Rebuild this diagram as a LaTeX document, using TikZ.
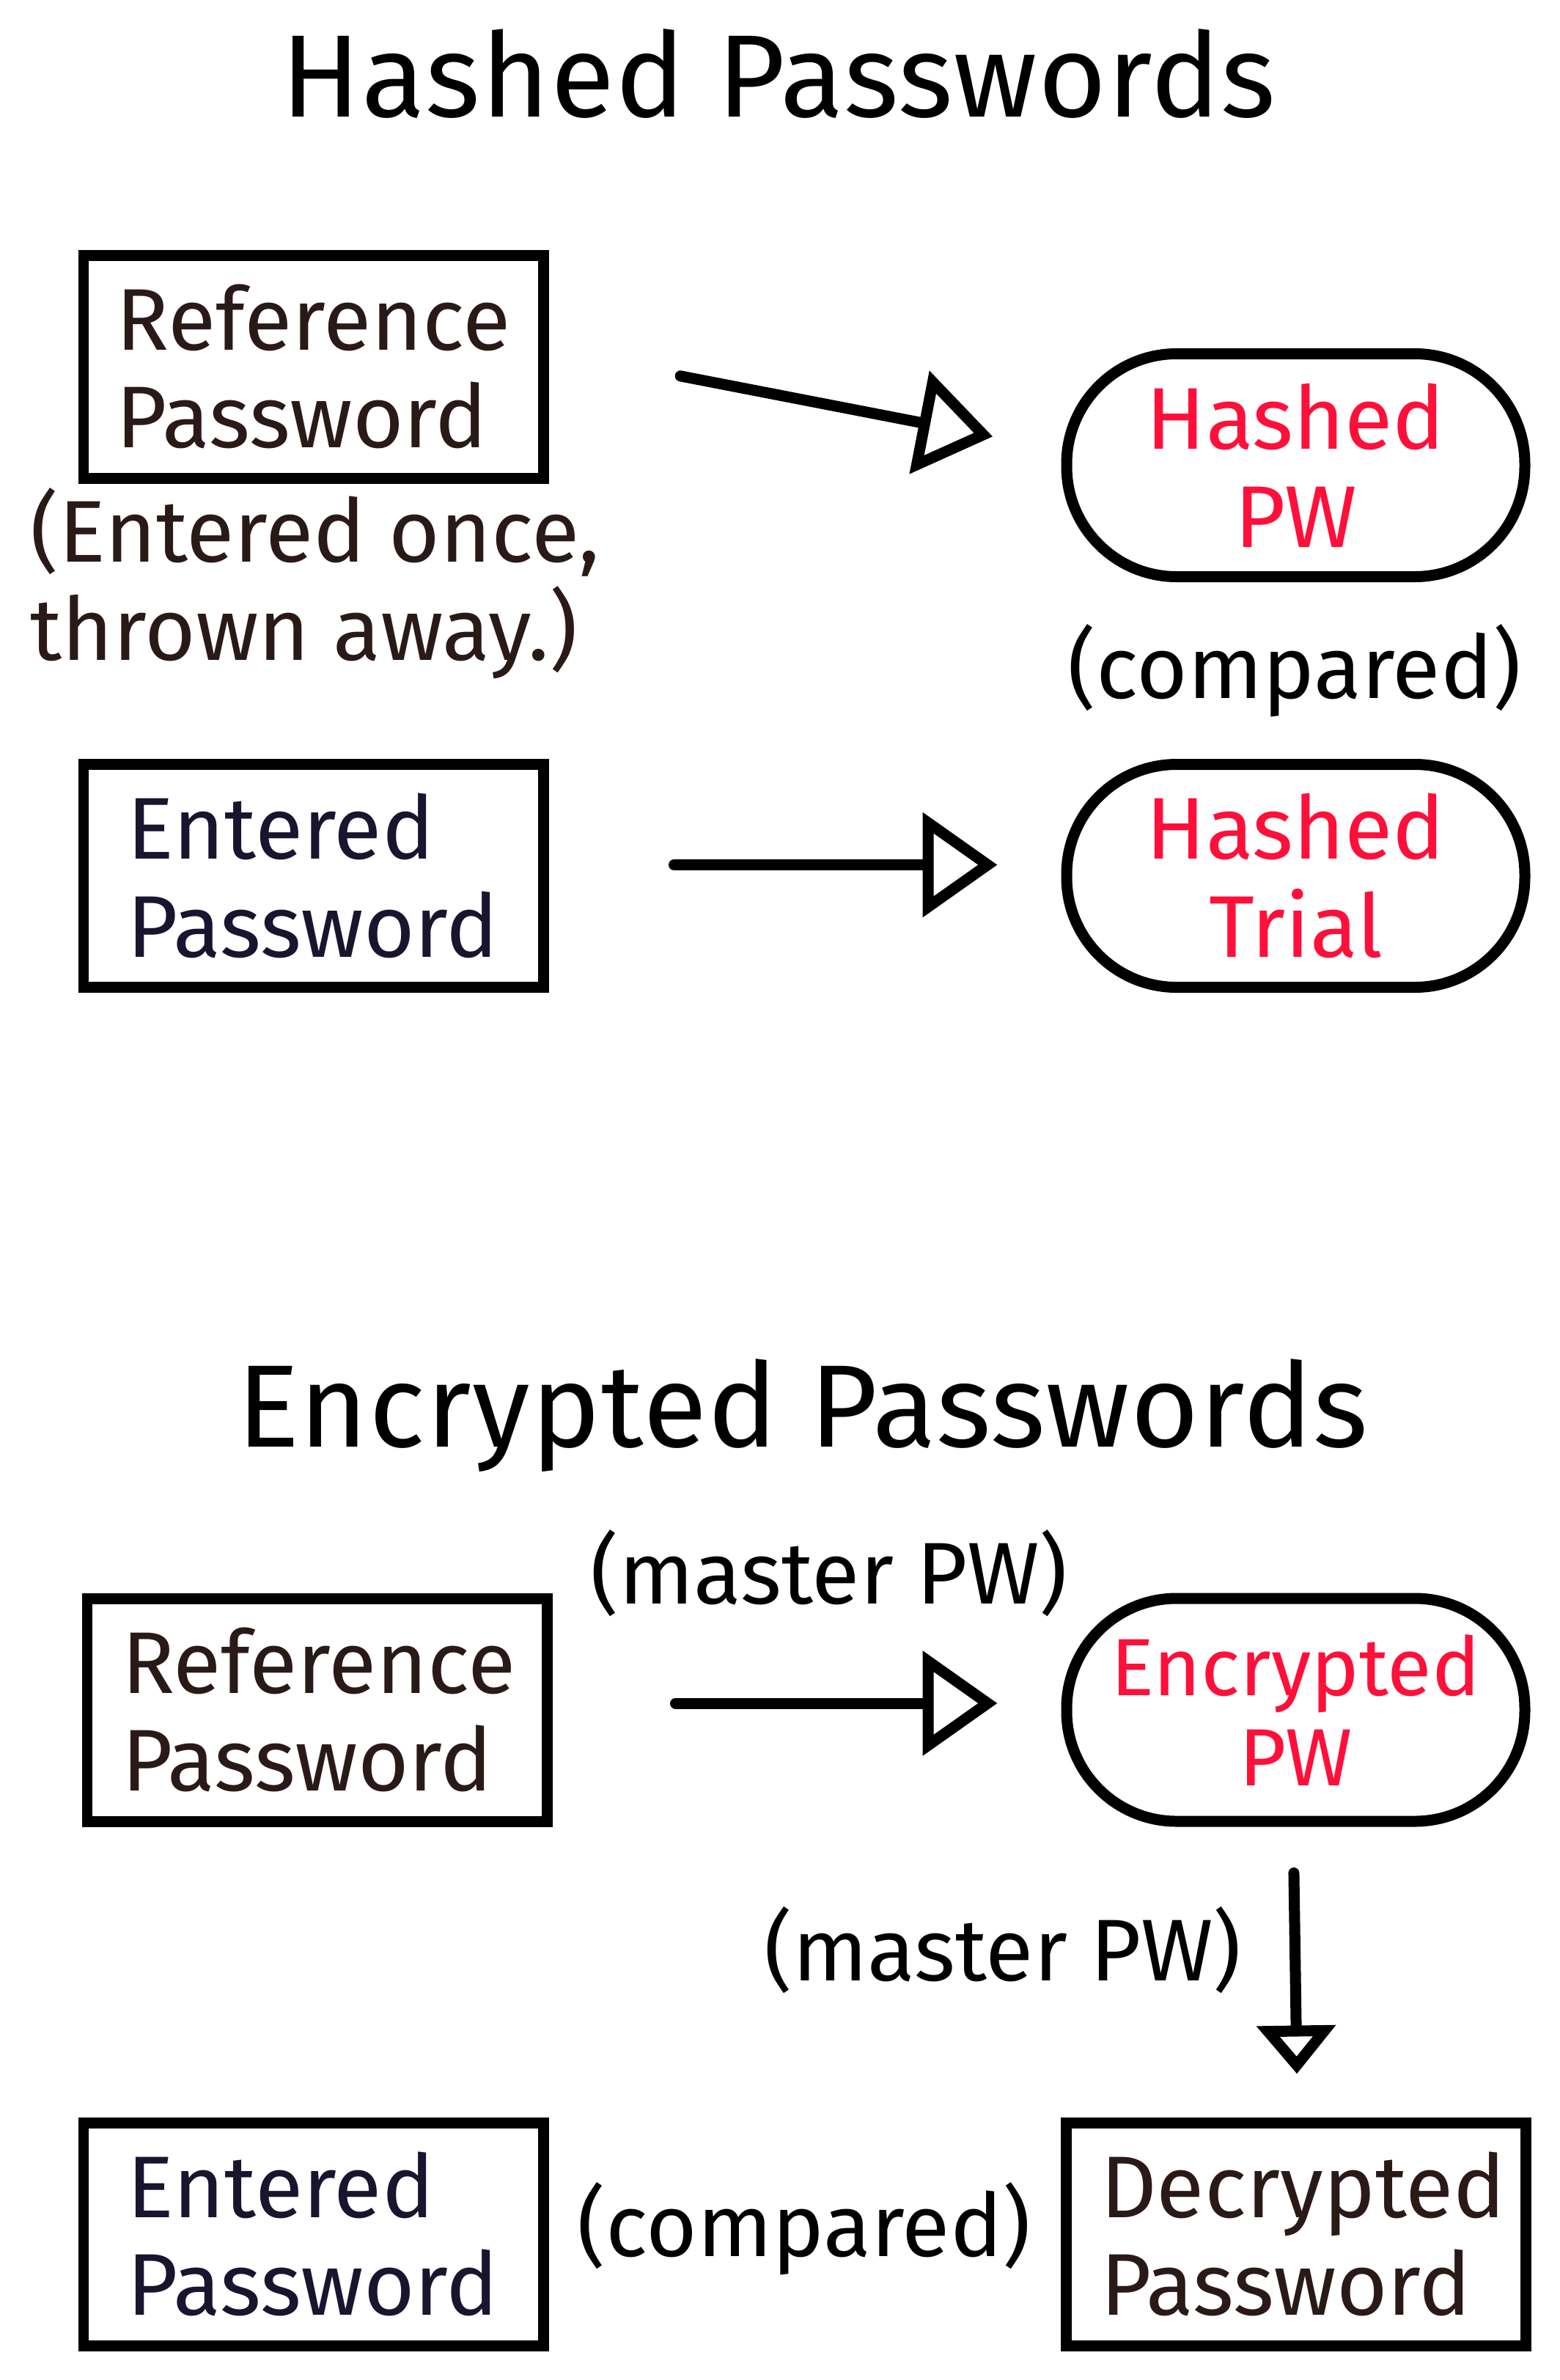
\documentclass[tikz,border=0pt]{standalone}
\usepackage{fontspec}
\IfFontExistsTF{Fira Sans Book}{\setmainfont{Fira Sans Book}}{\setmainfont{Fira Sans}}
\usepackage{tikz}
\usepackage{xcolor}
\usetikzlibrary{arrows.meta}
\definecolor{PW_Brown}{HTML}{2A1A17}
\definecolor{PW_Navy}{HTML}{19152E}
\definecolor{PW_Red}{HTML}{FF0F39}
\newcommand{\lblfont}{\fontsize{34}{38}\selectfont}
\newcommand{\ttlfont}{\fontsize{45.5}{50}\selectfont\addfontfeatures{LetterSpace=0.8}}

\begin{document}
\begin{tikzpicture}[
    pwbox/.style={draw, line width=0.15cm, minimum width=6.27cm, minimum height=3.04cm,
        inner sep=0pt, font=\lblfont, align=left},
    pwpill/.style={draw, line width=0.15cm, rounded corners=1.5cm, minimum width=6.25cm,
        minimum height=3.04cm, inner sep=0pt, font=\lblfont, align=center, text=PW_Red},
    aside/.style={font=\lblfont, anchor=base, inner sep=0pt},
    flow/.style={line width=0.15cm, line cap=round,
        -{Triangle[open, length=1.02cm, width=1.4cm]}},
    flowdown/.style={line width=0.15cm, line cap=round,
        -{Triangle[open, length=0.66cm, width=1.05cm]}}
]
    \useasboundingbox (0,0) rectangle (21.28,-32.46);
    % Hashed passwords
    \node[anchor=base, font=\ttlfont] (ttlhash) at (10.62,-1.59) {Hashed Passwords};
    \node[pwbox, text=PW_Brown, text width=5.37cm] (ref1) at (4.275,-5.0) {Reference\\Password};
    \node[anchor=base west, font=\lblfont, align=left, text=PW_Brown, inner sep=0pt] (once) at (0.41,-9.0)
        {(Entered once,\\thrown away.)};
    \node[pwpill] (hpw) at (17.675,-6.345) {Hashed\\PW};
    \node[aside] (cmp1) at (17.66,-9.52) {(compared)};
    \node[pwbox, text=PW_Navy, text width=5.07cm] (ent1) at (4.275,-11.945) {Entered\\Password};
    \node[pwpill] (htr) at (17.675,-11.945) {Hashed\\Trial};
    \draw[flow, shorten <=1.83cm, shorten >=0.95cm] ([yshift=0.22cm]ref1.east) -- ([yshift=0.21cm]hpw.west);
    \draw[flow, shorten <=1.71cm, shorten >=0.87cm] ([yshift=0.15cm]ent1.east) -- ([yshift=0.15cm]htr.west);
    % Encrypted passwords
    \node[anchor=base, font=\ttlfont] (ttlenc) at (10.95,-19.73) {Encrypted Passwords};
    \node[aside] (mpw1) at (11.31,-21.87) {(master PW)};
    \node[pwbox, text=PW_Brown, text width=5.33cm] (ref2) at (4.325,-23.32) {Reference\\Password};
    \node[pwpill, font=\fontsize{31.5}{35}\selectfont] (epw) at (17.675,-23.32) {Encrypted\\PW};
    \draw[flow, shorten <=1.68cm, shorten >=0.87cm] ([yshift=0.09cm]ref2.east) -- ([yshift=0.09cm]epw.west);
    \node[aside] (mpw2) at (13.68,-27.01) {(master PW)};
    \node[pwbox, text=PW_Navy, text width=5.07cm] (ent2) at (4.275,-30.47) {Entered\\Password};
    \node[aside] (cmp2) at (10.97,-30.77) {(compared)};
    \node[pwbox, text=PW_Brown, text width=5.33cm] (dpw) at (17.675,-30.47) {Decrypted\\Password};
    \draw[flowdown, shorten <=0.63cm, shorten >=0.59cm] ([xshift=-0.035cm]epw.south) -- ([xshift=0.025cm]dpw.north);
\end{tikzpicture}
\end{document}
